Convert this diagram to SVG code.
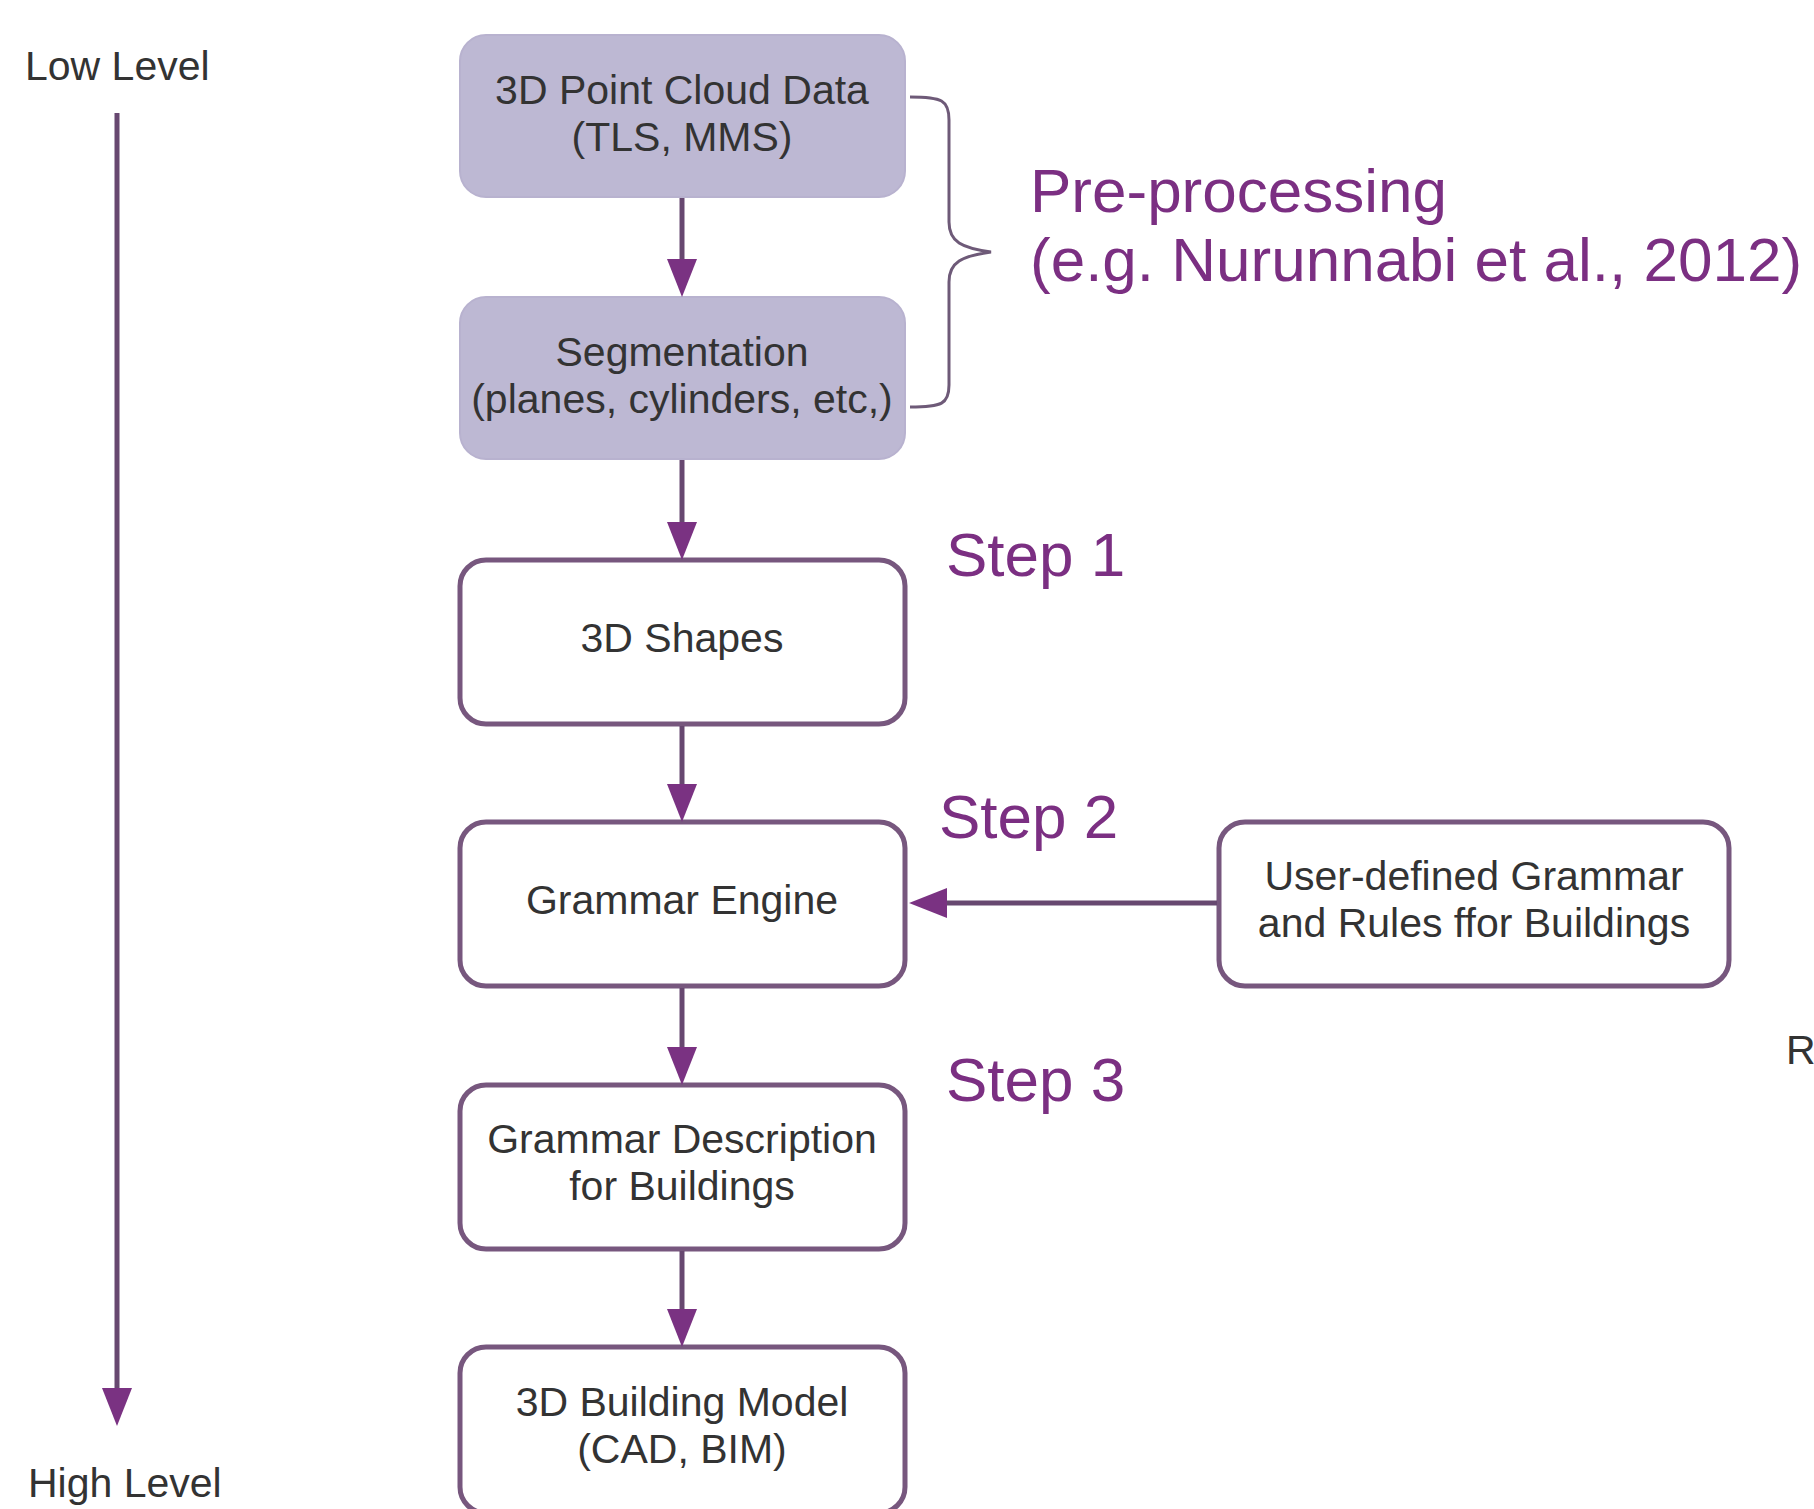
<svg xmlns="http://www.w3.org/2000/svg" width="1814" height="1509" viewBox="0 0 1814 1509">
  <defs>
    <style>
      .box { fill: #ffffff; stroke: #77577e; stroke-width: 5; }
      .box-pre { fill: #bdb8d3; stroke: #b8b2cf; stroke-width: 2; }
      .label { font-family: "Liberation Sans", Arial, sans-serif; font-size: 41px; fill: #333333; text-anchor: middle; }
      .side { font-family: "Liberation Sans", Arial, sans-serif; font-size: 41px; fill: #333333; }
      .accent { font-family: "Liberation Sans", Arial, sans-serif; font-size: 62px; fill: #7b2f82; }
      .link { stroke: #674870; stroke-width: 5; fill: none; }
      .brace { stroke: #6e5a78; stroke-width: 3; fill: none; }
    </style>
    <marker id="head" markerUnits="userSpaceOnUse" markerWidth="38" markerHeight="32" refX="30" refY="16" orient="auto">
      <path d="M0,1 L38,16 L0,31 z" fill="#7a3282"/>
    </marker>
  </defs>

  <rect width="1814" height="1509" fill="#ffffff"/>

  <!-- level axis -->
  <g id="level-axis">
    <text class="side" x="25" y="80">Low Level</text>
    <text class="side" x="28" y="1497">High Level</text>
  </g>

  <!-- pipeline nodes -->
  <g id="point-cloud">
    <rect class="box-pre" x="460" y="35" width="445" height="162" rx="26"/>
    <text class="label" x="682" y="104">3D Point Cloud Data</text>
    <text class="label" x="682" y="151">(TLS, MMS)</text>
  </g>
  <g id="segmentation">
    <rect class="box-pre" x="460" y="297" width="445" height="162" rx="26"/>
    <text class="label" x="682" y="366">Segmentation</text>
    <text class="label" x="682" y="413">(planes, cylinders, etc,)</text>
  </g>
  <g id="shapes">
    <rect class="box" x="460" y="560" width="445" height="164" rx="26"/>
    <text class="label" x="682" y="652">3D Shapes</text>
  </g>
  <g id="grammar-engine">
    <rect class="box" x="460" y="822" width="445" height="164" rx="26"/>
    <text class="label" x="682" y="914">Grammar Engine</text>
  </g>
  <g id="grammar-description">
    <rect class="box" x="460" y="1085" width="445" height="164" rx="26"/>
    <text class="label" x="682" y="1153">Grammar Description</text>
    <text class="label" x="682" y="1200">for Buildings</text>
  </g>
  <g id="building-model">
    <rect class="box" x="460" y="1347" width="445" height="166" rx="26"/>
    <text class="label" x="682" y="1416">3D Building Model</text>
    <text class="label" x="682" y="1463">(CAD, BIM)</text>
  </g>
  <g id="user-rules">
    <rect class="box" x="1219" y="822" width="510" height="164" rx="26"/>
    <text class="label" x="1474" y="890">User-defined Grammar</text>
    <text class="label" x="1474" y="937">and Rules ffor Buildings</text>
  </g>

  <!-- stage annotations -->
  <g id="annotations">
    <text class="accent" x="1030" y="212">Pre-processing</text>
    <text class="accent" x="1030" y="281">(e.g. Nurunnabi et al., 2012)</text>
    <text class="accent" x="946" y="576">Step 1</text>
    <text class="accent" x="939" y="838">Step 2</text>
    <text class="accent" x="946" y="1101">Step 3</text>
    <text class="side" x="1786" y="1064">R</text>
  </g>

  <!-- connectors -->
  <g id="connectors">
    <line class="link" x1="117" y1="113" x2="117" y2="1418" marker-end="url(#head)"/>
    <line class="link" x1="682" y1="198" x2="682" y2="289" marker-end="url(#head)"/>
    <line class="link" x1="682" y1="460" x2="682" y2="552" marker-end="url(#head)"/>
    <line class="link" x1="682" y1="726" x2="682" y2="814" marker-end="url(#head)"/>
    <line class="link" x1="682" y1="988" x2="682" y2="1077" marker-end="url(#head)"/>
    <line class="link" x1="682" y1="1251" x2="682" y2="1339" marker-end="url(#head)"/>
    <line class="link" x1="1217" y1="903" x2="917" y2="903" marker-end="url(#head)"/>
    <path class="brace" d="M910,97 C942,97 949,100 949,120 L949,222 C949,242 962,248 991,252 C962,256 949,262 949,282 L949,385 C949,404 942,407 910,407"/>
  </g>
</svg>
